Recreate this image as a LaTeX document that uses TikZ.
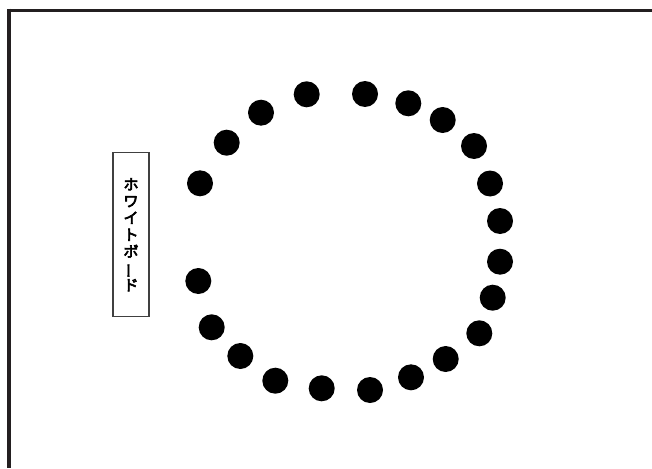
\documentclass[tikz,border=0pt]{standalone}
\usepackage{fontspec}
\newfontfamily\jp[AutoFakeBold=4]{Noto Sans CJK JP}
\definecolor{frame}{HTML}{231F20}
\begin{document}
\begin{tikzpicture}[x=1pt,y=-1pt,
  seat/.style={circle,fill=black,minimum size=26pt,inner sep=0pt},
  board/.style={draw=black!75,line width=1.1pt,minimum width=36pt,minimum height=164pt,inner sep=0pt}]
\useasboundingbox (0,0) rectangle (652,468);
\fill[white] (0,0) rectangle (652,468);
\coordinate (tr) at (652,10.5);
\coordinate (bl) at (9,468);
\draw[frame,line width=3.8pt] (tr) -- (7,10.5);
\draw[frame,line width=4.2pt] (9,8.6) -- (bl);
\node[board] (wb) at (131,234.7) {};
\node[font=\jp\bfseries\fontsize{15}{16.8}\selectfont,align=center,inner sep=0pt] (wbt) at (wb.center)
  {ホ\\ワ\\イ\\ト\\ボ\\\rotatebox[origin=c]{90}{ー}\\ド};
\foreach \x/\y [count=\i] in {
  200/183.3, 226.7/142.7, 261/112.7, 306.7/94.3, 365/94,
  408.3/103.3, 442.7/120, 474/146, 490/183.5, 500/221, 500/261.7,
  492.7/297.7, 479.3/333.3, 445.7/359, 411/377.3, 370/390,
  321.7/388.3, 275.3/380.7, 240.3/356, 211.7/327.3, 198.3/281}
  \node[seat] (s\i) at (\x,\y) {};
\end{tikzpicture}
\end{document}
